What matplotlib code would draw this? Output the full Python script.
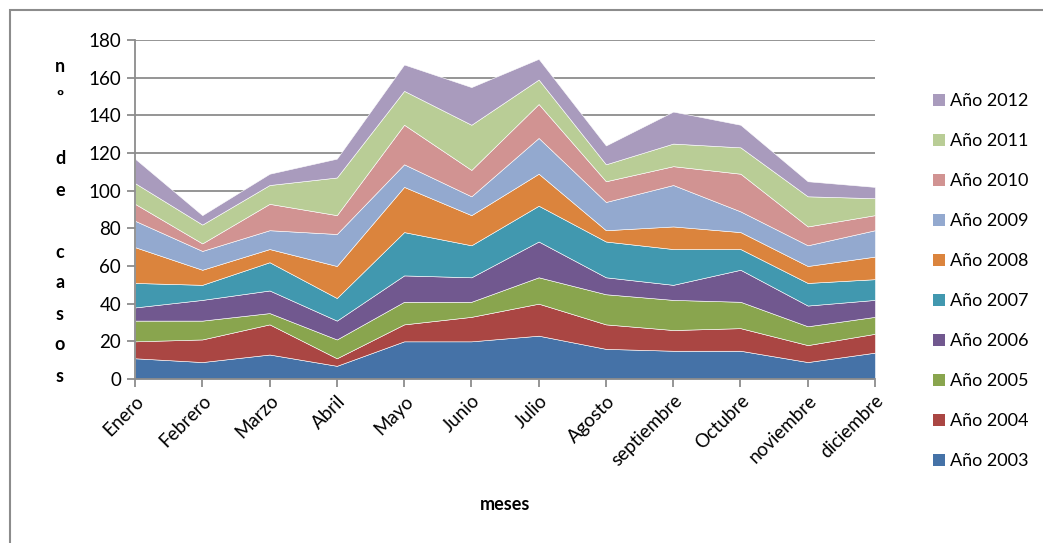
import numpy as np
import matplotlib
matplotlib.use("Agg")
import matplotlib.pyplot as plt
from matplotlib.patches import Patch, Rectangle

plt.rcParams['font.family'] = ['Lato', 'DejaVu Sans']

meses = ['Enero', 'Febrero', 'Marzo', 'Abril', 'Mayo', 'Junio', 'Julio', 'Agosto',
         'septiembre', 'Octubre', 'noviembre', 'diciembre']
anios = ['Año 2003', 'Año 2004', 'Año 2005', 'Año 2006', 'Año 2007',
         'Año 2008', 'Año 2009', 'Año 2010', 'Año 2011', 'Año 2012']

# casos por mes y año
a2003 = [11, 9, 13, 7, 20, 20, 23, 16, 15, 15, 9, 14]
a2004 = [9, 12, 16, 4, 9, 13, 17, 13, 11, 12, 9, 10]
a2005 = [11, 10, 6, 10, 12, 8, 14, 16, 16, 14, 10, 9]
a2006 = [7, 11, 12, 10, 14, 13, 19, 9, 8, 17, 11, 9]
a2007 = [13, 8, 15, 12, 23, 17, 19, 19, 19, 11, 12, 11]
a2008 = [19, 8, 7, 17, 24, 16, 17, 6, 12, 9, 9, 12]
a2009 = [14, 10, 10, 17, 12, 10, 19, 15, 22, 11, 11, 14]
a2010 = [9, 4, 14, 10, 21, 14, 18, 11, 10, 20, 10, 8]
a2011 = [11, 10, 10, 20, 18, 24, 13, 9, 12, 14, 16, 9]
a2012 = [13, 5, 6, 10, 14, 20, 11, 10, 17, 12, 8, 6]

colores = ['#4572A7', '#AA4643', '#89A54E', '#71588F', '#4198AF',
           '#DB843D', '#93A9CF', '#D19392', '#B9CD96', '#A99BBD']

series = [a2003, a2004, a2005, a2006, a2007, a2008, a2009, a2010, a2011, a2012]

fig = plt.figure(figsize=(10.43, 5.43), dpi=100)
# marco del grafico
fig.patches.append(Rectangle((10 / 1043, -0.1), 1.2, 1 - 10 / 543 + 0.1,
                             transform=fig.transFigure, fill=False,
                             edgecolor='#8c8c8c', linewidth=1.5))

ax = fig.add_axes([135 / 1043, 1 - 379 / 543, 740 / 1043, 339 / 543])
x = np.arange(len(meses))
ax.stackplot(x, *series, colors=colores, labels=anios,
             edgecolor='white', linewidth=0.4)

ax.set_xlim(0, len(meses) - 1)
ax.set_ylim(0, 180)
ax.set_yticks(range(0, 181, 20))
ax.yaxis.grid(True, color='#8c8c8c', linewidth=1.3)
ax.set_axisbelow(True)
for s in ['top', 'right']:
    ax.spines[s].set_visible(False)
for s in ['left', 'bottom']:
    ax.spines[s].set_color('#8c8c8c')
    ax.spines[s].set_linewidth(1.3)
ax.spines['bottom'].set_zorder(5)
ax.tick_params(axis='both', color='#8c8c8c', width=1.3, length=6, labelsize=13.5)
ax.tick_params(axis='y', pad=4)
ax.set_xticks(x)
ax.set_xticklabels(meses, rotation=45, ha='right', va='top', rotation_mode='anchor')

fig.text(505 / 1043, 1 - 505 / 543, 'meses', ha='center', va='center',
         fontsize=13, fontweight='bold')
fig.text(60 / 1043, 1 - 221 / 543, 'n\nº\n\nd\ne\n\nc\na\ns\no\ns', ha='center',
         va='center', fontsize=13, fontweight='bold', linespacing=2.0)

handles = [Patch(facecolor=c, edgecolor='none') for c in colores][::-1]
ax.legend(handles, anios[::-1], loc='upper left', bbox_to_anchor=(933 / 1043, 1 - 93 / 543),
          bbox_transform=fig.transFigure, frameon=False, fontsize=13,
          handlelength=0.65, handleheight=0.65, handletextpad=0.3, labelspacing=1.33,
          borderaxespad=0, borderpad=0)

fig.savefig('out.png', dpi=100, facecolor='white')
